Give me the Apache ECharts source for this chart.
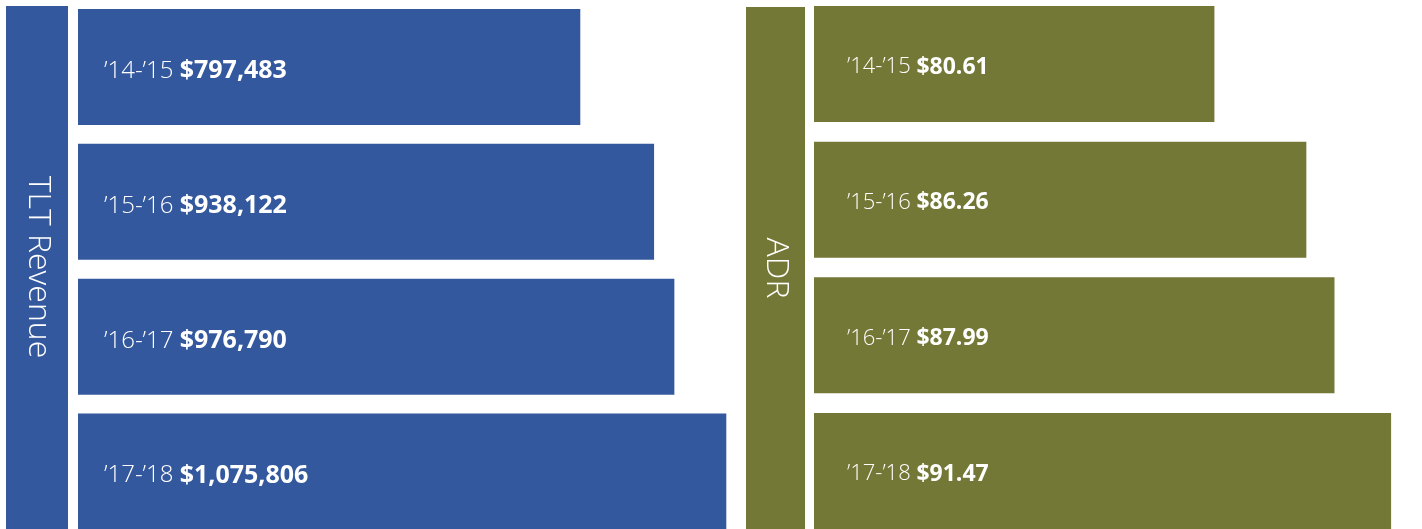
<!DOCTYPE html>
<html>
<head>
<meta charset="utf-8">
<script src="https://cdn.jsdelivr.net/npm/echarts@6/dist/echarts.min.js"></script>
<style>
html,body{margin:0;padding:0;background:#fff;}
#chart{width:1422px;height:529px;}
</style>
</head>
<body>
<div id="chart"></div>
<script>
// ---- data ----
var periods = ['\u201914-\u201915', '\u201915-\u201916', '\u201916-\u201917', '\u201917-\u201918'];
var revenueValues = [797483, 938122, 976790, 1075806];
var adrValues = [80.61, 86.26, 87.99, 91.47];
var leftTitle = 'TLT Revenue';
var rightTitle = 'ADR';

var BLUE = '#33589E';
var OLIVE = '#747836';
var FONT = '"Open Sans", "Noto Sans", sans-serif';

function fmtRevenue(v) { return '$' + v.toLocaleString('en-US'); }
function fmtAdr(v) { return '$' + v.toFixed(2); }

function labelCfg(fmt, dx, lightSize, boldSize, dy) {
  return {
    show: true,
    position: [dx, '50%'],
    offset: [0, dy],
    align: 'left',
    verticalAlign: 'middle',
    formatter: function (p) { return '{a|' + p.name + ' }{b|' + fmt(p.value) + '}'; },
    rich: {
      a: { color: '#ffffff', fontFamily: FONT, fontWeight: 300, fontSize: lightSize },
      b: { color: '#ffffff', fontFamily: FONT, fontWeight: 700, fontSize: boldSize }
    }
  };
}

var chart = echarts.init(document.getElementById('chart'), null, { renderer: 'canvas' });
chart.setOption({
  animation: false,
  backgroundColor: '#ffffff',
  grid: [
    { left: 78, top: 67, width: 661, height: 404.5 },
    { left: 814, top: 64, width: 602, height: 407 }
  ],
  xAxis: [
    { type: 'value', gridIndex: 0, min: -160000, max: 1100000, startValue: -160000, show: false, splitLine: { show: false } },
    { type: 'value', gridIndex: 1, min: 56, max: 93, startValue: 56, show: false, splitLine: { show: false } }
  ],
  yAxis: [
    { type: 'category', gridIndex: 0, data: periods, inverse: true, boundaryGap: false, show: false },
    { type: 'category', gridIndex: 1, data: periods, inverse: true, boundaryGap: false, show: false }
  ],
  series: [
    {
      type: 'bar', xAxisIndex: 0, yAxisIndex: 0, data: revenueValues, clip: false,
      barWidth: 116, itemStyle: { color: BLUE }, label: labelCfg(fmtRevenue, 26, 24, 25, 4)
    },
    {
      type: 'bar', xAxisIndex: 1, yAxisIndex: 1, data: adrValues, clip: false,
      barWidth: 116, itemStyle: { color: OLIVE }, label: labelCfg(fmtAdr, 33, 22, 23, 3)
    }
  ],
  graphic: [
    { type: 'rect', shape: { x: 6, y: 6, width: 62, height: 530 }, style: { fill: BLUE }, silent: true },
    { type: 'text', x: 38, y: 267, rotation: -Math.PI / 2,
      style: { text: leftTitle, fill: '#ffffff', font: '300 32px ' + FONT, align: 'center', verticalAlign: 'middle' }, silent: true },
    { type: 'rect', shape: { x: 746, y: 7, width: 59, height: 530 }, style: { fill: OLIVE }, silent: true },
    { type: 'text', x: 776, y: 268, rotation: -Math.PI / 2,
      style: { text: rightTitle, fill: '#ffffff', font: '300 32px ' + FONT, align: 'center', verticalAlign: 'middle' }, silent: true }
  ]
});
</script>
</body>
</html>
